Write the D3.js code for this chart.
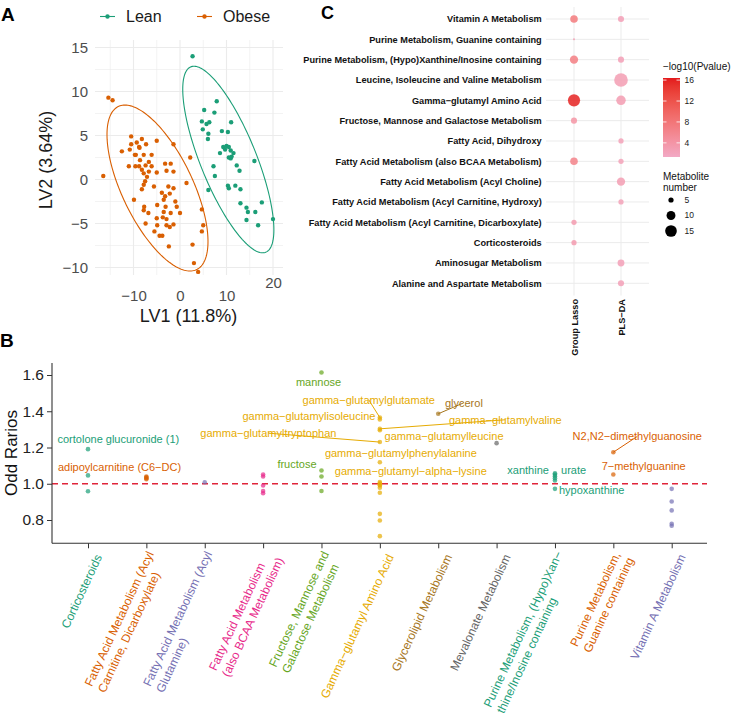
<!DOCTYPE html>
<html>
<head>
<meta charset="utf-8">
<script src="https://cdn.jsdelivr.net/npm/d3@7"></script>
<style>
body { margin: 0; background: #fff; }
svg { display: block; font-family: "Liberation Sans", Arial, Helvetica, sans-serif; }
</style>
</head>
<body>
<div id="chart"></div>
<script>
// ---------- Panel A : PLS-DA scores ----------
var leanLV1 = [2.7, 7.9, 5.2, 7.4, 4.7, 5.7, 6.3, 11.0, 4.9, 9.0, 10.3, 6.1, 6.0,
    8.6, 9.3, 9.7, 10.0, 10.5, 10.9, 11.5, 10.5, 10.9, 11.1, 16.0, 7.2, 12.2, 12.8, 7.5,
    10.3, 10.5, 11.9, 13.0, 6.1, 13.0, 17.6, 14.3, 14.6, 16.2, 14.3, 20.0, 16.8];
var leanLV2 = [14.0, 8.9, 7.9, 7.6, 6.6, 6.3, 6.5, 6.5, 5.7, 5.5, 5.4, 5.2, 4.6,
    3.0, 3.7, 3.4, 3.8, 3.7, 3.3, 3.0, 2.5, 2.4, 2.6, 2.1, 1.5, 1.6, 1.0, 0.4,
    -0.7, -1.0, -0.7, -1.1, -1.2, -2.7, -2.6, -3.2, -3.7, -3.7, -4.6, -4.5, -5.2];
var obeseLV1 = [-15.4, -14.5, -10.5, -8.2, -5.0, -9.3, -7.3, -10.5, -8.8, -1.4,
    -12.5, -10.8, -9.7, -7.8, -6.1, -8.6, -6.7, -11.0, -9.6, -8.8, -7.4, -6.1, -3.2, -2.0,
    2.2, -8.2, -7.8, -6.7, -5.0, -2.9, -1.4, -7.1, -7.5, -7.8, -8.2, -5.6, -2.5, -1.4, 1.4,
    -16.5, -9.9, -3.9, -3.2, -2.2, -4.9, -3.5, -1.0, -0.7, -3.1, -7.7, -7.8, -6.8, -3.5,
    -2.0, 0.0, -3.7, -2.9, -5.0, -7.4, -4.9, -2.9, -1.4, -2.2, -5.5, -4.4, -3.8, -2.4,
    4.7, 5.0, 4.7, 2.7, 3.0, 3.9, -8.7, -9.5];
var obeseLV2 = [9.3, 9.0, 4.9, 4.6, 4.4, 4.2, 4.0, 4.0, 3.7, 4.0,
    3.2, 3.4, 2.8, 2.8, 2.8, 2.2, 2.0, 1.5, 1.5, 1.5, 1.6, 1.5, 1.8, 1.8,
    2.5, 1.1, 0.7, 0.9, 0.8, 1.0, 0.9, 0.3, -0.2, -0.6, -1.1, -0.8, -0.8, -1.0, -0.4,
    0.4, -2.3, -1.5, -1.9, -1.6, -2.9, -2.3, -2.5, -3.1, -3.1, -3.1, -3.5, -3.8, -3.7,
    -3.8, -3.8, -4.3, -4.5, -4.4, -5.0, -5.2, -5.2, -5.1, -5.4, -5.9, -6.4, -6.4, -7.6,
    -3.4, -5.2, -5.9, -7.4, -9.5, -10.5, 3.6, 2.8];
// 95% ellipses: centre LV1, centre LV2, half-width LV1, half-height LV2, correlation
var leanEllipse = [10.39, 2.27, 9.80, 10.6, -0.753];
var obeseEllipse = [-4.84, -0.97, 10.86, 9.43, -0.644];
var groups = ["Lean", "Obese"];

// ---------- Panel C : pathway enrichment ----------
var pathways = ["Vitamin A Metabolism", "Purine Metabolism, Guanine containing",
    "Purine Metabolism, (Hypo)Xanthine/Inosine containing", "Leucine, Isoleucine and Valine Metabolism",
    "Gamma\u2212glutamyl Amino Acid", "Fructose, Mannose and Galactose Metabolism",
    "Fatty Acid, Dihydroxy", "Fatty Acid Metabolism (also BCAA Metabolism)",
    "Fatty Acid Metabolism (Acyl Choline)", "Fatty Acid Metabolism (Acyl Carnitine, Hydroxy)",
    "Fatty Acid Metabolism (Acyl Carnitine, Dicarboxylate)", "Corticosteroids",
    "Aminosugar Metabolism", "Alanine and Aspartate Metabolism"];
var methods = ["Group Lasso", "PLS\u2212DA"];
var lassoCount = [8, 2, 9, null, 16, 6, null, 8, null, null, 5, 5, null, null];
var lassoLogP = [7.5, 3.0, 7.0, null, 16.0, 4.0, null, 6.5, null, null, 3.2, 3.2, null, null];
var plsCount = [6, null, 6, 19, 11, null, 5, 5, 9, 5, null, null, 7, 6];
var plsLogP = [2.6, null, 2.6, 2.8, 3.0, null, 2.3, 2.3, 2.8, 2.3, null, null, 2.5, 2.5];
var sizeBreaks = [5, 10, 15];
var logPBreaks = [4, 8, 12, 16];

// ---------- Panel B : odds ratios by pathway ----------
var bCategories = ["Corticosteroids", "Fatty Acid Metabolism (Acyl\nCarnitine, Dicarboxylate)",
    "Fatty Acid Metabolism (Acyl\nGlutamine)", "Fatty Acid Metabolism\n(also BCAA Metabolism)",
    "Fructose, Mannose and\nGalactose Metabolism", "Gamma\u2212glutamyl Amino Acid",
    "Glycerolipid Metabolism", "Mevalonate Metabolism",
    "Purine Metabolism, (Hypo)Xan\u2212\nthine/Inosine containing",
    "Purine Metabolism,\nGuanine containing", "Vitamin A Metabolism"];
var oddsRatios = [
    [1.191, 1.046, 0.959],
    [1.04, 1.035, 1.03, 1.025],
    [1.008],
    [1.051, 1.04, 0.99, 0.96, 0.948],
    [1.614, 1.073, 1.04, 0.96],
    [1.365, 1.355, 1.303, 1.295, 1.23, 1.119, 1.009, 1.003, 0.995, 0.99, 0.978, 0.95, 0.834, 0.797, 0.711],
    [1.386],
    [1.224],
    [1.058, 1.051, 1.042, 1.031, 1.018, 0.972],
    [1.174, 1.051],
    [0.972, 0.902, 0.853, 0.779, 0.768]
];
var oddsTicks = [0.8, 1.0, 1.2, 1.4, 1.6];
var metaboliteNames = ["cortolone glucuronide (1)", "adipoylcarnitine (C6\u2212DC)", "mannose", "fructose",
    "gamma\u2212glutamylglutamate", "gamma\u2212glutamylisoleucine", "gamma\u2212glutamylvaline",
    "gamma\u2212glutamylleucine", "gamma\u2212glutamyltryptophan", "gamma\u2212glutamylphenylalanine",
    "gamma\u2212glutamyl\u2212alpha\u2212lysine", "glycerol", "xanthine", "urate", "hypoxanthine",
    "N2,N2\u2212dimethylguanosine", "7\u2212methylguanine"];
var metaboliteCat = [0, 1, 4, 4, 5, 5, 5, 5, 5, 5, 5, 6, 8, 8, 8, 9, 9];
var metaboliteOdds = [1.191, 1.04, 1.614, 1.073, 1.365, 1.355, 1.303, 1.295, 1.23, 1.119, 1.009,
    1.386, 1.058, 1.051, 0.972, 1.174, 1.051];

// label placement (repel result): offset in category steps, odds ratio of label centre
var labelLayout = [[0.52, 1.247], [-0.46, 1.092], [-0.05, 1.561], [-0.42, 1.106],
    [-0.19, 1.463], [-1.215, 1.371], [2.15, 1.353], [1.10, 1.261], [-1.91, 1.279],
    [0.36, 1.169], [0.53, 1.068], [0.44, 1.447], [-0.46, 1.073], [0.32, 1.073],
    [0.63, 0.967], [0.41, 1.261], [0.52, 1.096]];

var dark2 = ["#1B9E77", "#D95F02", "#7570B3", "#E7298A", "#66A61E", "#E6AB02", "#A6761D", "#666666"];

var svg = d3.select("#chart").append("svg")
    .attr("width", 731)
    .attr("height", 718);
svg.append("rect").attr("width", 731).attr("height", 718).attr("fill", "#fff");

// ================= Panel A =================
var xA = d3.scaleLinear().domain([-10, 20]).range([133.5, 273]);
var yA = d3.scaleLinear().domain([-10, 15]).range([267.5, 47.5]);
var aLeft = 95, aRight = 283, aTop = 40, aBottom = 275;

var gA = svg.append("g");
d3.range(-15, 21, 5).forEach(function(v) {
    gA.append("line")
        .attr("x1", xA(v)).attr("x2", xA(v))
        .attr("y1", aTop).attr("y2", aBottom)
        .attr("stroke", "#ebebeb")
        .attr("stroke-width", v % 10 === 0 ? 1.1 : 0.6);
});
d3.range(-10, 15.1, 2.5).forEach(function(v) {
    gA.append("line")
        .attr("x1", aLeft).attr("x2", aRight)
        .attr("y1", yA(v)).attr("y2", yA(v))
        .attr("stroke", "#ebebeb")
        .attr("stroke-width", v % 5 === 0 ? 1.1 : 0.6);
});

var axA_y = gA.append("g")
    .attr("transform", "translate(" + aLeft + ",0)")
    .call(d3.axisLeft(yA).tickValues([-10, -5, 0, 5, 10, 15]).tickSize(0).tickPadding(7));
var axA_x = gA.append("g")
    .attr("transform", "translate(0," + aBottom + ")")
    .call(d3.axisBottom(xA).tickValues([-10, 0, 10, 20]).tickSize(0).tickPadding(15.5));
[axA_x, axA_y].forEach(function(ax) {
    ax.select(".domain").remove();
    ax.selectAll("text")
        .attr("font-size", 15)
        .attr("font-family", "Liberation Sans, Arial, sans-serif")
        .attr("fill", "#4d4d4d");
});
// the 20 label sits higher in the original
axA_x.selectAll(".tick").filter(function(d) { return d === 20; })
    .select("text").attr("y", 2.5);

function ellipsePoints(e) {
    var k = Math.sqrt(1 - e[4] * e[4]);
    return d3.range(0, 2 * Math.PI + 0.01, Math.PI / 90).map(function(t) {
        return [e[0] + e[2] * Math.cos(t), e[1] + e[3] * (e[4] * Math.cos(t) + k * Math.sin(t))];
    });
}
var ellLine = d3.line()
    .x(function(d) { return xA(d[0]); })
    .y(function(d) { return yA(d[1]); });

gA.append("path").attr("d", ellLine(ellipsePoints(obeseEllipse)))
    .attr("fill", "none").attr("stroke", dark2[1]).attr("stroke-width", 1.1);
gA.append("path").attr("d", ellLine(ellipsePoints(leanEllipse)))
    .attr("fill", "none").attr("stroke", dark2[0]).attr("stroke-width", 1.1);

obeseLV1.forEach(function(v, i) {
    gA.append("circle").attr("cx", xA(v)).attr("cy", yA(obeseLV2[i])).attr("r", 2.2).attr("fill", dark2[1]);
});
leanLV1.forEach(function(v, i) {
    gA.append("circle").attr("cx", xA(v)).attr("cy", yA(leanLV2[i])).attr("r", 2.2).attr("fill", dark2[0]);
});

// legend
groups.forEach(function(g, i) {
    var lx = 100 + i * 97;
    gA.append("line").attr("x1", lx).attr("x2", lx + 15).attr("y1", 16.5).attr("y2", 16.5)
        .attr("stroke", dark2[i]).attr("stroke-width", 1.1);
    gA.append("circle").attr("cx", lx + 7.5).attr("cy", 16.5).attr("r", 2.2).attr("fill", dark2[i]);
    gA.append("text").attr("x", lx + 26).attr("y", 22).attr("font-size", 16).attr("fill", "#1a1a1a").text(g);
});

gA.append("text").attr("x", 188.5).attr("y", 322).attr("text-anchor", "middle")
    .attr("font-size", 18).attr("fill", "#1a1a1a").text("LV1 (11.8%)");
gA.append("text").attr("transform", "translate(52,160) rotate(-90)").attr("text-anchor", "middle")
    .attr("font-size", 18).attr("fill", "#1a1a1a").text("LV2 (3.64%)");
svg.append("text").attr("x", 1).attr("y", 21).attr("font-size", 19).attr("font-weight", "bold").text("A");

// ================= Panel C =================
var gC = svg.append("g");
var yC = d3.scalePoint().domain(pathways).range([19, 283.3]);
var xC = d3.scalePoint().domain(methods).range([574, 621]);
var cLeft = 546, cRight = 649, cTop = 7, cBottom = 295.5;

pathways.forEach(function(p) {
    gC.append("line").attr("x1", cLeft).attr("x2", cRight).attr("y1", yC(p)).attr("y2", yC(p))
        .attr("stroke", "#ebebeb").attr("stroke-width", 1);
    gC.append("text").attr("x", 541.7).attr("y", yC(p)).attr("dy", "0.35em")
        .attr("text-anchor", "end").attr("font-size", 9.2).attr("font-weight", "bold")
        .attr("fill", "#111").text(p);
});
methods.forEach(function(m) {
    gC.append("line").attr("x1", xC(m)).attr("x2", xC(m)).attr("y1", cTop).attr("y2", cBottom)
        .attr("stroke", "#ebebeb").attr("stroke-width", 1);
    gC.append("text").attr("transform", "translate(" + (xC(m) + 3.5) + "," + 299 + ") rotate(-90)")
        .attr("text-anchor", "end").attr("font-size", 9.2).attr("font-weight", "bold")
        .attr("fill", "#111").text(m);
});

var allCounts = lassoCount.concat(plsCount).filter(function(d) { return d != null; });
var cntExt = d3.extent(allCounts);
var rScaleSq = d3.scaleLinear().domain([Math.sqrt(cntExt[0]), Math.sqrt(cntExt[1])]).range([1.0, 6.8]);
function rC(n) { return rScaleSq(Math.sqrt(n)); }
var colC = d3.scaleLinear().domain([1.3, 16.4]).range(["#F2A9C5", "#E41A1C"])
    .interpolate(d3.interpolateLab);

[[lassoCount, lassoLogP], [plsCount, plsLogP]].forEach(function(s, j) {
    s[0].forEach(function(n, i) {
        if (n == null) return;
        gC.append("circle").attr("cx", xC(methods[j])).attr("cy", yC(pathways[i]))
            .attr("r", rC(n)).attr("fill", colC(s[1][i])).attr("fill-opacity", 0.85);
    });
});

// colour bar legend
var defs = svg.append("defs");
var grad = defs.append("linearGradient").attr("id", "pgrad")
    .attr("x1", 0).attr("y1", 1).attr("x2", 0).attr("y2", 0);
d3.range(0, 1.001, 0.1).forEach(function(t) {
    grad.append("stop").attr("offset", t).attr("stop-color", colC(1.3 + t * 15.1));
});
var barY = d3.scaleLinear().domain([1.3, 16.4]).range([157, 78]);
gC.append("text").attr("x", 663).attr("y", 70).attr("font-size", 10).attr("fill", "#111")
    .text("\u2212log10(Pvalue)");
gC.append("rect").attr("x", 663).attr("y", 78).attr("width", 17).attr("height", 79).attr("fill", "url(#pgrad)");
logPBreaks.forEach(function(b) {
    gC.append("line").attr("x1", 663).attr("x2", 666.5).attr("y1", barY(b)).attr("y2", barY(b))
        .attr("stroke", "#fff").attr("stroke-width", 0.8);
    gC.append("line").attr("x1", 676.5).attr("x2", 680).attr("y1", barY(b)).attr("y2", barY(b))
        .attr("stroke", "#fff").attr("stroke-width", 0.8);
    gC.append("text").attr("x", 684.5).attr("y", barY(b)).attr("dy", "0.35em")
        .attr("font-size", 8.5).attr("fill", "#222").text(b);
});
gC.append("text").attr("x", 663).attr("y", 180).attr("font-size", 10).attr("fill", "#111").text("Metabolite");
gC.append("text").attr("x", 663).attr("y", 191).attr("font-size", 10).attr("fill", "#111").text("number");
sizeBreaks.forEach(function(b, i) {
    var yy = 200 + i * 15.5;
    gC.append("circle").attr("cx", 671).attr("cy", yy).attr("r", rC(b)).attr("fill", "#000");
    gC.append("text").attr("x", 684.5).attr("y", yy).attr("dy", "0.35em")
        .attr("font-size", 8.5).attr("fill", "#222").text(b);
});
svg.append("text").attr("x", 321).attr("y", 18.5).attr("font-size", 18).attr("font-weight", "bold").text("C");

// ================= Panel B =================
var gB = svg.append("g");
var xB = d3.scalePoint().domain(d3.range(bCategories.length)).range([88, 671.7]);
var yB = d3.scaleLinear().domain([0.8, 1.6]).range([520, 375]);
var bLeft = 52, bRight = 707, bTop = 363, bBottom = 543.3;

gB.append("line").attr("x1", bLeft).attr("x2", bRight).attr("y1", yB(1)).attr("y2", yB(1))
    .attr("stroke", "#E0243A").attr("stroke-width", 1.3).attr("stroke-dasharray", "6,4");

var axB_y = gB.append("g").attr("transform", "translate(" + bLeft + ",0)")
    .call(d3.axisLeft(yB).tickValues(oddsTicks).tickFormat(d3.format(".1f")).tickSize(5).tickPadding(3));
axB_y.select(".domain").remove();
axB_y.selectAll("text").attr("font-size", 15.5).attr("font-family", "Liberation Sans, Arial, sans-serif").attr("fill", "#222");
axB_y.selectAll("line").attr("stroke", "#333");
var axB_x = gB.append("g").attr("transform", "translate(0," + bBottom + ")")
    .call(d3.axisBottom(xB).tickSize(5).tickFormat(""));
axB_x.select(".domain").remove();
axB_x.selectAll("line").attr("stroke", "#333");
gB.append("line").attr("x1", bLeft).attr("x2", bLeft).attr("y1", bTop).attr("y2", bBottom)
    .attr("stroke", "#333").attr("stroke-width", 1.1);
gB.append("line").attr("x1", bLeft).attr("x2", bRight).attr("y1", bBottom).attr("y2", bBottom)
    .attr("stroke", "#333").attr("stroke-width", 1.1);

oddsRatios.forEach(function(vals, i) {
    vals.forEach(function(v) {
        gB.append("circle").attr("cx", xB(i)).attr("cy", yB(v)).attr("r", 2.3)
            .attr("fill", dark2[i % 8]).attr("fill-opacity", 0.7);
    });
});

// metabolite labels with leader segments
metaboliteNames.forEach(function(name, i) {
    var c = metaboliteCat[i];
    var lx = xB(c) + labelLayout[i][0] * xB.step();
    var ly = yB(labelLayout[i][1]);
    var t = gB.append("text").attr("x", lx).attr("y", ly).attr("dy", "0.35em")
        .attr("text-anchor", "middle").attr("font-size", 11).attr("fill", dark2[c % 8]).text(name);
    var bb = t.node().getBBox();
    var px = xB(c), py = yB(metaboliteOdds[i]);
    var x0 = bb.x, x1 = bb.x + bb.width, y0 = bb.y + 1, y1 = bb.y + bb.height - 1;
    var nx = Math.max(x0, Math.min(px, x1)), ny = Math.max(y0, Math.min(py, y1));
    if (Math.hypot(px - nx, py - ny) > 8) {
        // clip the ray from point to label centre at the label box
        var dx = lx - px, dy = ly - py, tt = 1;
        if (dx !== 0) tt = Math.min(tt, Math.max((x0 - px) / dx, (x1 - px) / dx));
        if (dy !== 0) tt = Math.min(tt, Math.max((y0 - py) / dy, (y1 - py) / dy));
        gB.append("line").attr("x1", px).attr("y1", py)
            .attr("x2", px + dx * tt).attr("y2", py + dy * tt)
            .attr("stroke", dark2[c % 8]).attr("stroke-width", 1);
    }
});

// rotated category labels
bCategories.forEach(function(cat, i) {
    var lines = cat.split("\n");
    var lh = 14.5;
    var t = gB.append("text")
        .attr("transform", "translate(" + (xB(i) + 10.5) + "," + 555 + ") rotate(-65)")
        .attr("font-size", 12).attr("fill", dark2[i % 8]);
    var spans = lines.map(function(l, k) {
        return t.append("tspan").attr("y", (k - (lines.length - 1) / 2) * lh).attr("dy", "0.35em").text(l);
    });
    var maxW = d3.max(spans, function(s) { return s.node().getComputedTextLength(); });
    spans.forEach(function(s) { s.attr("x", -maxW); });
});

gB.append("text").attr("transform", "translate(17,453) rotate(-90)").attr("text-anchor", "middle")
    .attr("font-size", 17).attr("fill", "#111").text("Odd Rarios");
svg.append("text").attr("x", 0).attr("y", 347).attr("font-size", 19).attr("font-weight", "bold").text("B");
</script>
</body>
</html>
